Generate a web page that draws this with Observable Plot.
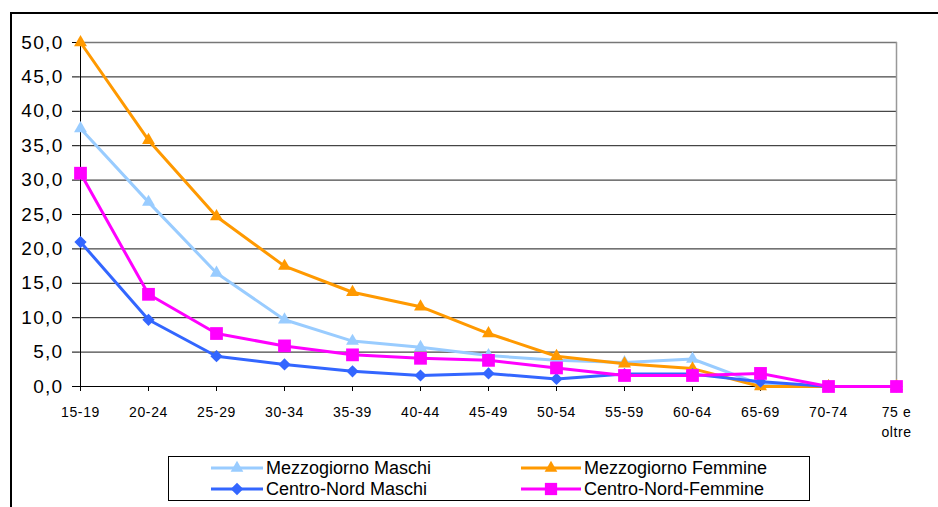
<!DOCTYPE html>
<html><head><meta charset="utf-8">
<script src="https://cdn.jsdelivr.net/npm/d3@7"></script>
<script src="https://cdn.jsdelivr.net/npm/@observablehq/plot@0.6"></script>
<style>
body{margin:0;background:#fff;font-family:Arial,"Liberation Sans",sans-serif;}
#wrap{position:relative;width:938px;height:507px;overflow:hidden;background:#fff;}
#frame{position:absolute;left:10px;top:12px;width:960px;height:520px;border-left:2px solid #000;border-top:2px solid #000;}
#chart{position:absolute;left:0;top:0;}
#chart g[aria-label="y-axis tick label"]{font-size:19px;letter-spacing:1.3px;}
#chart g[aria-label="x-axis tick label"]{font-size:14px;letter-spacing:0.6px;}
#legend{position:absolute;left:168px;top:456px;width:642px;height:45px;border:1px solid #000;box-sizing:border-box;background:#fff;}
.item{position:absolute;height:20px;display:flex;align-items:center;font-size:18px;color:#000;white-space:nowrap;}
.item svg{margin-right:3px;}
</style></head><body>
<div id="wrap"><div id="frame"></div><div id="chart"></div><div id="legend"></div></div>
<script>
const ageGroups = ["15-19","20-24","25-29","30-34","35-39","40-44","45-49","50-54","55-59","60-64","65-69","70-74","75 e oltre"];
const mezzogiornoMaschi  = [37.5, 26.8, 16.5, 9.7, 6.6, 5.7, 4.5, 3.8, 3.5, 4.0, 0.3, 0.0, 0.0];
const mezzogiornoFemmine = [50.0, 35.8, 24.7, 17.5, 13.7, 11.6, 7.7, 4.4, 3.3, 2.6, 0.0, 0.0, 0.0];
const centroNordMaschi   = [21.0, 9.7, 4.4, 3.2, 2.2, 1.6, 1.9, 1.1, 1.8, 1.8, 0.7, 0.0, 0.0];
const centroNordFemmine  = [31.0, 13.4, 7.7, 5.9, 4.6, 4.1, 3.8, 2.7, 1.6, 1.6, 1.9, 0.0, 0.0];
const seriesNames  = ["Mezzogiorno Maschi","Mezzogiorno Femmine","Centro-Nord Maschi","Centro-Nord-Femmine"];
const seriesColors = ["#99CCFF","#FF9900","#3366FF","#FF00FF"];
const seriesSymbols = ["triangle","triangle","diamond","square"];
const seriesValues = [mezzogiornoMaschi, mezzogiornoFemmine, centroNordMaschi, centroNordFemmine];
const yTicks = [0,5,10,15,20,25,30,35,40,45,50];

const fmt = d => d.toFixed(1).replace(".", ",");

// square-ish diamond like the spreadsheet marker
const squareDiamond = {
  draw(ctx, size) {
    const s = Math.sqrt(size) * 0.75;
    ctx.moveTo(0, -s); ctx.lineTo(s, 0); ctx.lineTo(0, s); ctx.lineTo(-s, 0); ctx.closePath();
  }
};
const symbolFor = name => name === "diamond" ? squareDiamond : name === "square" ? d3.symbolSquare : d3.symbolTriangle;

const marks = [
  Plot.ruleY(yTicks.slice(1, -1), {stroke: "#1a1a1a", strokeWidth: 1}),
  Plot.ruleY([50], {stroke: "#777", strokeWidth: 1.5}),
  Plot.ruleX([ageGroups[ageGroups.length - 1]], {stroke: "#999", strokeWidth: 1.5}),
  Plot.ruleY([0], {stroke: "#000", strokeWidth: 1}),
  Plot.ruleX([ageGroups[0]], {stroke: "#000", strokeWidth: 1}),
  Plot.axisY({ticks: yTicks, tickFormat: fmt, tickSize: 7, tickPadding: 9, fontSize: 19, label: null, stroke: "#000"}),
  Plot.axisX({tickSize: 5, tickPadding: 12, fontSize: 14, lineHeight: 1.4, label: null,
    tickFormat: d => d === "75 e oltre" ? "75 e\noltre" : d})
];
seriesValues.forEach((vals, i) => {
  const data = ageGroups.map((a, j) => ({age: a, value: vals[j]}));
  marks.push(Plot.line(data, {x: "age", y: "value", stroke: seriesColors[i], strokeWidth: 3}));
  const r = seriesSymbols[i] === "square" ? 7.2 : (seriesSymbols[i] === "diamond" ? 4.6 : 4.8);
  marks.push(Plot.dot(data, {x: "age", y: "value", symbol: () => symbolFor(seriesSymbols[i]), r, fill: seriesColors[i], stroke: "none"}));
});

const chart = Plot.plot({
  width: 938, height: 440,
  marginLeft: 79, marginRight: 41, marginTop: 42, marginBottom: 54,
  style: {fontFamily: "Arial, 'Liberation Sans', sans-serif", color: "#000", background: "transparent"},
  x: {type: "point", domain: ageGroups, padding: 0},
  y: {domain: [0, 50]},
  symbol: {type: "identity"},
  marks
});
document.getElementById("chart").appendChild(chart);

// legend
const legendPos = [[42, 1], [352, 1], [42, 22], [352, 22]];
const legend = document.getElementById("legend");
[0, 1, 2, 3].forEach((i, k) => {
  const [lx, ly] = legendPos[k];
  const div = document.createElement("div");
  div.className = "item";
  div.style.left = lx + "px";
  div.style.top = ly + "px";
  const w = i % 2 === 0 ? 52 : 60;
  const svg = d3.create("svg").attr("width", w).attr("height", 16);
  svg.append("line").attr("x1", 0).attr("x2", w).attr("y1", 8).attr("y2", 8).attr("stroke", seriesColors[i]).attr("stroke-width", 3);
  const size = seriesSymbols[i] === "square" ? 150 : 70;
  svg.append("path").attr("d", d3.symbol(symbolFor(seriesSymbols[i]), size)()).attr("transform", `translate(${w/2},8)`).attr("fill", seriesColors[i]);
  div.appendChild(svg.node());
  const span = document.createElement("span");
  span.textContent = seriesNames[i];
  div.appendChild(span);
  legend.appendChild(div);
});
</script>
</body></html>
